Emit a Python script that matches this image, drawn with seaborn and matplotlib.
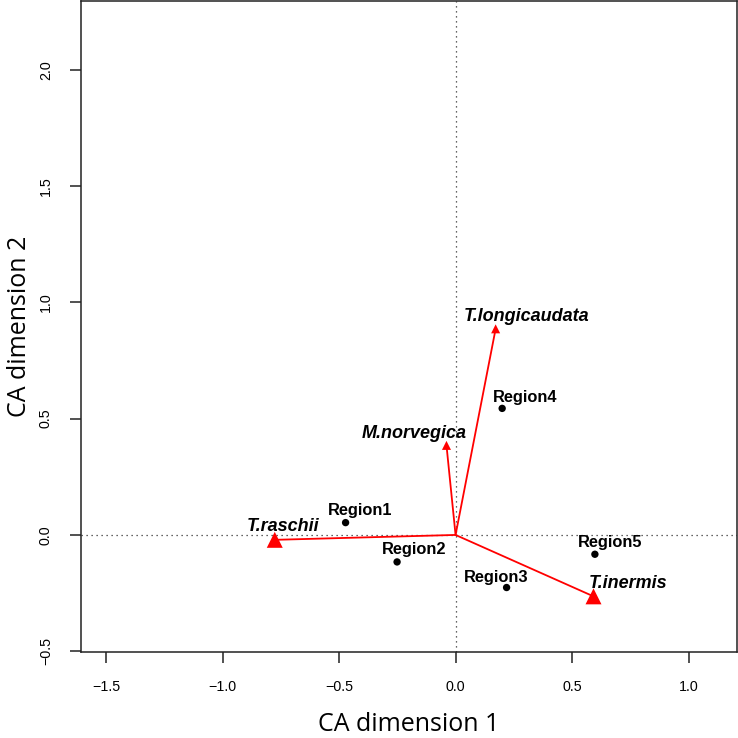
import matplotlib
matplotlib.use("Agg")
import matplotlib.pyplot as plt
import seaborn as sns
import pandas as pd

# site scores (regions)
regions = ["Region1", "Region2", "Region3", "Region4", "Region5"]
reg_x = [-0.472, -0.251, 0.219, 0.200, 0.598]
reg_y = [0.053, -0.116, -0.226, 0.544, -0.083]

# species scores
species = ["T.raschii", "M.norvegica", "T.longicaudata", "T.inermis"]
sp_x = [-0.776, -0.039, 0.172, 0.592]
sp_y = [-0.021, 0.385, 0.886, -0.264]
sp_big = [True, False, False, True]

xticks = [-1.5, -1.0, -0.5, 0.0, 0.5, 1.0]
yticks = [-0.5, 0.0, 0.5, 1.0, 1.5, 2.0]

# label offsets in pixels (dx, dy up) relative to the point
reg_off = [(15, 7.5), (17, 8), (-10, 6), (23, 6), (15, 7)]
sp_off = [(8, 9), (-32, 7.5), (31, 7.5), (35, 8.5)]

sns.set_style("ticks")
plt.rcParams["font.family"] = ["Liberation Sans", "DejaVu Sans"]
plt.rcParams.update({"text.color": "black", "axes.labelcolor": "black",
                     "xtick.color": "black", "ytick.color": "black"})

reg = pd.DataFrame({"x": reg_x, "y": reg_y, "name": regions})
sp = pd.DataFrame({"x": sp_x, "y": sp_y, "name": species, "big": sp_big})

fig = plt.figure(figsize=(7.38, 7.38), dpi=100)
ax = fig.add_axes([0.1093, 0.1169, 0.8897, 0.8817])

ax.axhline(0, color="#333333", lw=0.9, ls=(0, (1, 3)), zorder=1)
ax.axvline(0, color="#333333", lw=0.9, ls=(0, (1, 3)), zorder=1)

for x, y in zip(sp.x, sp.y):
    ax.plot([0, x], [0, y], color="red", lw=1.3, zorder=2)

sns.scatterplot(data=sp[sp.big], x="x", y="y", marker="^", s=11.5 ** 2,
                color="red", edgecolor="none", ax=ax, zorder=3)
sns.scatterplot(data=sp[~sp.big], x="x", y="y", marker="^", s=6.5 ** 2,
                color="red", edgecolor="none", ax=ax, zorder=3)
sns.scatterplot(data=reg, x="x", y="y", s=5.3 ** 2, color="black",
                edgecolor="none", ax=ax, zorder=3)

for (x, y, n), (dx, dy) in zip(zip(reg.x, reg.y, reg.name), reg_off):
    ax.annotate(n, (x, y), xytext=(dx, dy), textcoords="offset pixels",
                ha="center", va="baseline", fontsize=11.8, fontweight="bold")
for (x, y, n), (dx, dy) in zip(zip(sp.x, sp.y, sp.name), sp_off):
    ax.annotate(n, (x, y), xytext=(dx, dy), textcoords="offset pixels",
                ha="center", va="baseline", fontsize=13, fontweight="bold",
                fontstyle="italic")

ax.set_xlim(-1.609, 1.209)
ax.set_ylim(-0.502, 2.295)
ax.set_xticks(xticks)
ax.set_xticklabels([f"{t:.1f}".replace("-", "\u2212") for t in xticks])
ax.set_yticks(yticks)
ax.set_yticklabels([f"{t:.1f}".replace("-", "\u2212") for t in yticks],
                   rotation=90, va="center")
ax.tick_params(axis="both", direction="out", length=8, width=1.1,
               color="#222222", labelsize=10.3, pad=12)

for s in ax.spines.values():
    s.set_visible(True)
    s.set_linewidth(1.1)
    s.set_color("#222222")

ax.set_xlabel("CA dimension 1", fontsize=18, family="Open Sans", labelpad=13)
ax.set_ylabel("CA dimension 2", fontsize=18, family="Open Sans", labelpad=5)

fig.savefig("out.png", dpi=100)
